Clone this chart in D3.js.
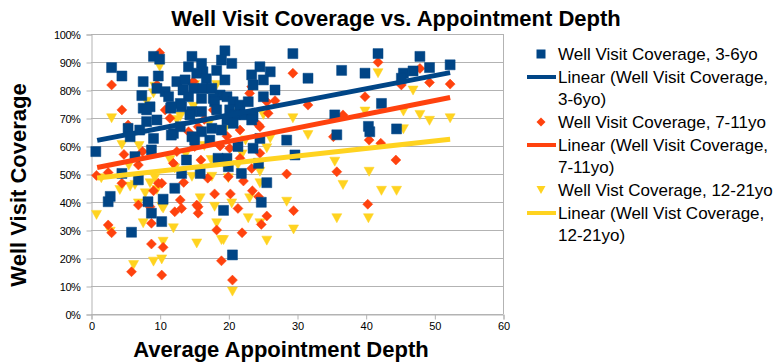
<!DOCTYPE html>
<html><head><meta charset="utf-8">
<script src="https://cdn.jsdelivr.net/npm/d3@7"></script>
<style>body{margin:0;background:#fff}svg{display:block;font-family:"Liberation Sans",Arial,sans-serif}</style>
</head><body><div id="chart"></div>
<script>
const title = "Well Visit Coverage vs. Appointment Depth";
const xTitle = "Average Appointment Depth";
const yTitle = "Well Visit Coverage";
const xTicks = [0,10,20,30,40,50,60];
const yTicks = [0,0.1,0.2,0.3,0.4,0.5,0.6,0.7,0.8,0.9,1];
const seriesNames = ["Well Visit Coverage, 3-6yo","Well Visit Coverage, 7-11yo","Well Vist Coverage, 12-21yo"];
const colors = ["#004586","#ff420e","#ffd320"];

// [appointment depth, coverage %]
const blue = [[0.7,58],[3.0,88],[4.5,85],[9.1,92],[10.0,91],[7.6,83],[7.4,78],[9.8,85],[9.6,80.6],[10.8,79.4],
[7.6,73.5],[8.6,74],[11.6,73.5],[13.2,74],[14.7,92],[16.1,89.5],[16.3,86.5],[14.2,88.3],[15.4,86],[18.3,87],
[16.8,84],[12.5,83],[13.7,83.6],[13.4,80],[14.9,80.6],[16.3,80.6],[17.6,80.6],[18.8,78.2],[14.2,77.6],[16.1,77],
[17.8,77],[8.1,72.9],[14.7,72.3],[16.1,72.3],[5.4,66.3],[8.1,68.7],[9.6,69.3],[5.7,63.3],[7.1,65.7],[9.1,62.7],
[12.0,64.5],[14.7,63.3],[16.1,65.1],[17.6,66.3],[19.0,65.7],[6.4,56.2],[8.8,58.6],[15.1,62.1],[19.5,94],[20.5,89.5],
[29.4,93],[36.5,87],[31.6,84.2],[24.6,88.3],[26.1,86.5],[23.4,85.4],[25.1,83.6],[26.8,80],[23.6,81.8],[25.1,77.6],
[19.5,83.6],[19.8,77.6],[20.7,75.8],[21.7,74.6],[22.9,75.8],[20.2,72.9],[21.0,71.1],[22.4,71.1],[23.6,70.5],[19.8,69.3],
[20.7,68.1],[23.4,69.3],[28.5,62.1],[35.5,71.1],[35.8,64],[24.6,62.7],[21.4,59.8],[23.6,59.2],[29.7,56.8],[19.8,55.6],
[24.4,53.8],[21.9,50.2],[20.0,52.6],[25.6,46.9],[24.8,39.9],[19.3,37],[20.6,21.1],[4.5,50.2],[6.9,47.9],[12.2,44.9],
[15.9,50.2],[13.2,50.2],[2.8,42],[2.5,40.1],[8.3,40.1],[10.5,41],[8.8,36],[10.3,33],[5.9,29.2],[41.8,93],
[47.9,92],[39.9,86],[49.3,88],[52.3,89],[45.5,86],[46.9,86.8],[45.2,84.2],[42.3,75.2],[40.4,67],[40.6,65.1],
[44.5,66.1],[19.0,90.7],[11.3,77.6],[13.0,75.2],[18.0,75.8],[18.3,72.9],[14.4,71.1],[13.0,66.9],[11.7,74],[13.9,55],
[18.5,55.6],[17.3,62.1],[11.7,63.9]];

const orange = [[10,93.3],[3.0,81.8],[4.5,72.9],[5.4,67.5],[9.6,81.8],[10.8,72.9],[14.9,83],[17.8,72.9],[11.5,69.9],[14.2,65.1],
[15.6,66.9],[6.9,53.2],[12,53.8],[0.8,49.5],[15.1,59.8],[4.5,46.7],[10.3,46.7],[9.1,44],[6.9,38.9],[8.6,38.3],
[13.2,37.7],[12.2,36.5],[15.6,38.3],[15.6,36],[18,42.9],[18.3,30],[2.5,31.8],[3.0,29],[8.8,32.4],[8.8,25],
[10.5,23.8],[5.9,15.1],[10.3,13.9],[19,19],[28.5,50],[35.8,50.8],[20.3,42.9],[21.4,37.7],[23.5,44],[24.4,41.9],
[25.6,35],[24.8,32],[29.5,36.9],[22,29],[20.6,12.1],[29.4,86],[23.4,81.2],[26.8,76.2],[31.6,74.6],[25.6,75.8],
[36.7,71.1],[35.3,63.3],[24.6,66.9],[21.7,65.7],[20.2,59.2],[24.6,57.4],[21.7,55.6],[23.4,52],[19.5,53.8],[41.8,89.9],
[47.9,87.7],[49.3,82.7],[52.3,82.1],[45.2,81.8],[39.9,77.6],[40.5,62.1],[42.2,61],[44.4,55],[40.3,39.2],[9.8,46.7],
[15.4,38.9],[13,40.7],[23.1,78.8],[25.8,71.7],[24.4,67.5],[16,55],[7.5,58],[12.5,58],[18.8,60],[20,49],
[17,48.5],[13.5,47],[2.5,50.5],[4.8,57],[19.8,63.5],[16.5,69.5],[22.2,47.5]];

const yellow = [[3,69.9],[10,88.3],[4.5,60.4],[8.1,75.8],[9.1,78.8],[15.1,81.8],[12.5,69.3],[0.8,35.4],[5.7,45.5],[4.2,44.3],
[6.4,46.1],[7.9,43.1],[6.9,39.5],[10.3,38.3],[7.6,32.4],[12,30.6],[2.8,29.4],[10.5,25.8],[15.4,25.2],[15.9,41.3],
[18,38.3],[18.3,32.4],[19,26.4],[6.2,17.5],[9.1,18.7],[10.3,19.5],[17.6,49],[14.7,49],[9.3,48.5],[20,48.5],
[24.6,46.7],[20.5,39.5],[23.1,41.3],[28.5,40.1],[22.9,34.2],[24.6,32.4],[35.8,34.2],[36.7,46.1],[29.5,30.2],[19.3,26.4],
[25.6,26.2],[20.6,8],[19.5,65.7],[25.1,71.1],[29.4,69.9],[31.6,63.9],[26.1,62.7],[25.6,59.2],[21.4,53.2],[24.6,50.8],
[35.5,54.4],[20.2,71.7],[41.8,86],[46.9,79.8],[45.5,72.3],[47.9,71.1],[49.3,69],[52.3,69.9],[39.9,72.3],[45.5,66],
[40.5,50.8],[42.3,44],[44.5,44],[40.4,34.2],[8.6,46.7],[10.5,37.7],[9.6,44.3],[9.3,81.2],[18.3,81.8],[14.9,74],
[13,70.5],[5.5,53],[11.5,55],[13.8,57],[16.5,60],[17.5,55],[7,60],[12.2,52],[22.5,62],[17.2,68],
[22,57],[1.5,48.5]];

// Linear trend lines: [x, coverage %] at both ends
const trendX = [0.9, 52.3];
const trendBlue = [62, 86.2];
const trendOrange = [52.3, 77.3];
const trendYellow = [48.6, 62.4];

const W = 784, H = 364;
const svg = d3.select("#chart").append("svg").attr("width", W).attr("height", H);
const x = d3.scaleLinear().domain([0,60]).range([91,503]);
const y = d3.scaleLinear().domain([0,1]).range([314,34]);

// grid
svg.append("g").selectAll("line").data(yTicks).join("line")
  .attr("x1", 91).attr("x2", 503).attr("y1", d=>y(d)+0.5).attr("y2", d=>y(d)+0.5)
  .attr("stroke", "#b3b3b3").attr("stroke-width", 1);
svg.append("line").attr("x1", 503.5).attr("x2", 503.5).attr("y1", 34).attr("y2", 314).attr("stroke","#b3b3b3");

// axes
const yAxis = d3.axisLeft(y).tickValues(yTicks).tickFormat(d3.format(".0%")).tickSize(5).tickPadding(4);
const gy = svg.append("g").attr("transform","translate(91.5,0.5)").call(yAxis);
const xAxis = d3.axisBottom(x).tickValues(xTicks).tickSize(5).tickPadding(3);
const gx = svg.append("g").attr("transform","translate(0.5,314.5)").call(xAxis);
[gx, gy].forEach(g => {
  g.selectAll(".domain").attr("stroke","#b3b3b3");
  g.selectAll(".tick line").attr("stroke","#b3b3b3");
  g.selectAll("text").attr("font-size", 11).attr("fill","#000").attr("font-family","Liberation Sans, Arial, sans-serif");
});
gy.selectAll("text").attr("dx", -2).attr("letter-spacing", -0.4);

// markers
const sq = "M-5,-5H5V5H-5Z";
const dia = "M0,-5L5,0L0,5L-5,0Z";
const tri = "M-5,-4.5L5,-4.5L0,4.5Z";
const plot = svg.append("g");
function drawSeries(data, path, color) {
  plot.append("g").selectAll("path").data(data).join("path")
    .attr("d", path)
    .attr("transform", d => `translate(${x(d[0])},${y(d[1]/100)})`)
    .attr("fill", color).attr("stroke", color).attr("stroke-opacity", 0.5).attr("stroke-width", 1);
}
drawSeries(yellow, tri, colors[2]);
drawSeries(orange, dia, colors[1]);
drawSeries(blue, sq, colors[0]);

// trend lines
const line = d3.line().x(d=>x(d[0])).y(d=>y(d[1]/100));
[[trendBlue, colors[0]],[trendOrange, colors[1]],[trendYellow, colors[2]]].forEach(([t,c]) => {
  svg.append("path").datum(trendX.map((xv,i)=>[xv,t[i]])).attr("d", line)
    .attr("stroke", c).attr("stroke-width", 5).attr("fill","none");
});

// titles
svg.append("text").attr("x", 396).attr("y", 26).attr("text-anchor","middle")
  .attr("font-size", 22).attr("font-weight","bold").text(title);
svg.append("text").attr("x", 281).attr("y", 357).attr("text-anchor","middle")
  .attr("font-size", 22).attr("font-weight","bold").text(xTitle);
svg.append("text").attr("transform","translate(26,185) rotate(-90)").attr("text-anchor","middle")
  .attr("font-size", 22).attr("font-weight","bold").text(yTitle);

// legend
const legendItems = [
  {type:"m", path:sq, color:colors[0], lines:[seriesNames[0]], y:54, s:0.9},
  {type:"l", color:colors[0], lines:["Linear (Well Visit Coverage,","3-6yo)"], y:77},
  {type:"m", path:dia, color:colors[1], lines:[seriesNames[1]], y:122, s:0.9},
  {type:"l", color:colors[1], lines:["Linear (Well Visit Coverage,","7-11yo)"], y:145},
  {type:"m", path:tri, color:colors[2], lines:[seriesNames[2]], y:190, s:0.9},
  {type:"l", color:colors[2], lines:["Linear (Well Vist Coverage,","12-21yo)"], y:213}
];
const lg = svg.append("g");
legendItems.forEach(it => {
  if (it.type === "m") {
    lg.append("path").attr("d", it.path).attr("transform",`translate(541,${it.y}) scale(${it.s})`).attr("fill", it.color);
  } else {
    lg.append("line").attr("x1",527).attr("x2",556).attr("y1",it.y).attr("y2",it.y)
      .attr("stroke", it.color).attr("stroke-width",4);
  }
  it.lines.forEach((t,i) => {
    lg.append("text").attr("x",558).attr("y", it.y + 6 + i*21.5).attr("font-size",17).text(t);
  });
});
</script></body></html>
